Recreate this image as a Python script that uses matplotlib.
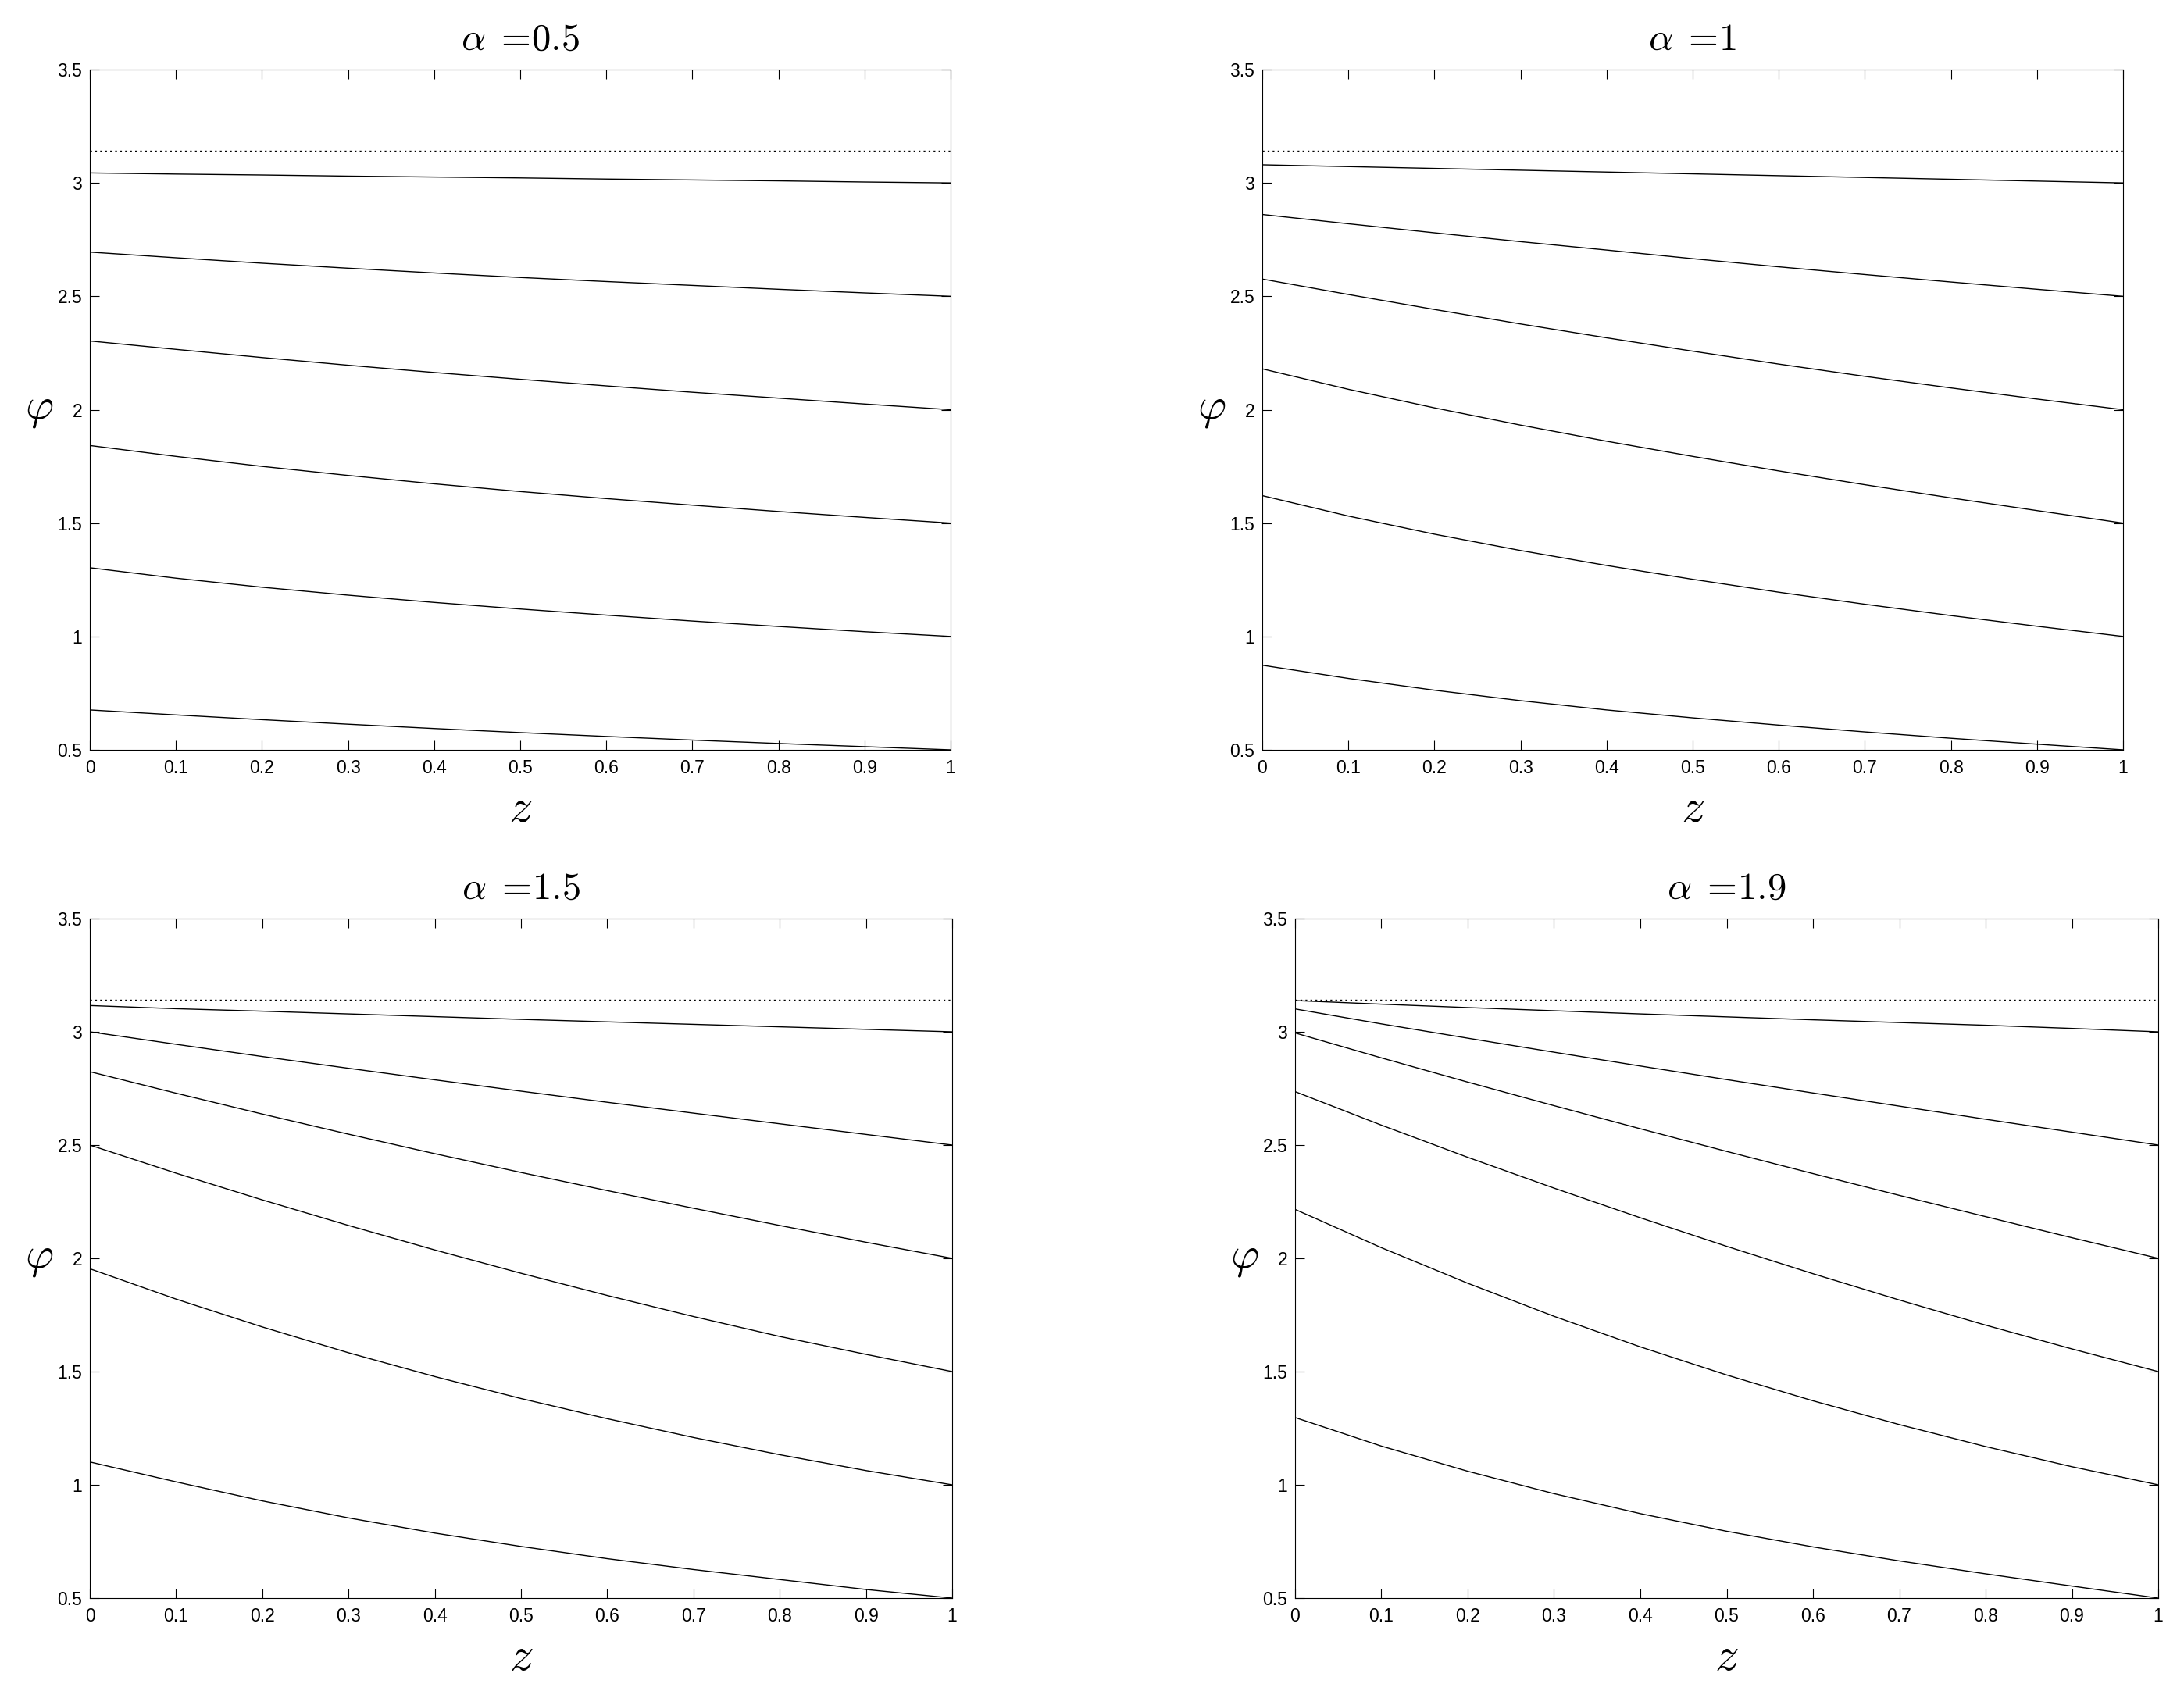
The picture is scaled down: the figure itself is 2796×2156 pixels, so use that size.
import matplotlib
matplotlib.use("Agg")
import matplotlib.pyplot as plt
import numpy as np

plt.rcParams['font.family'] = ['Liberation Sans', 'DejaVu Sans']
plt.rcParams['mathtext.fontset'] = 'cm'

# ---- data ----
z = [0.0, 0.1, 0.2, 0.3, 0.4, 0.5, 0.6, 0.7, 0.8, 0.9, 1.0]
pi_level = 3.1416

alphas = ['0.5', '1', '1.5', '1.9']

phi_a05 = [
    [3.044, 3.039, 3.035, 3.030, 3.026, 3.022, 3.017, 3.013, 3.009, 3.004, 3.000],
    [2.695, 2.670, 2.646, 2.624, 2.603, 2.583, 2.565, 2.548, 2.531, 2.515, 2.500],
    [2.303, 2.266, 2.230, 2.196, 2.164, 2.134, 2.105, 2.077, 2.051, 2.025, 2.000],
    [1.842, 1.794, 1.750, 1.710, 1.673, 1.639, 1.608, 1.579, 1.551, 1.525, 1.500],
    [1.303, 1.257, 1.217, 1.182, 1.150, 1.121, 1.094, 1.068, 1.044, 1.021, 1.000],
    [0.676, 0.654, 0.633, 0.613, 0.594, 0.576, 0.559, 0.543, 0.528, 0.514, 0.500],
]
phi_a10 = [
    [3.080, 3.072, 3.064, 3.056, 3.048, 3.040, 3.032, 3.024, 3.016, 3.008, 3.000],
    [2.861, 2.820, 2.780, 2.741, 2.704, 2.666, 2.630, 2.596, 2.563, 2.531, 2.500],
    [2.576, 2.508, 2.442, 2.378, 2.317, 2.258, 2.201, 2.147, 2.096, 2.047, 2.000],
    [2.180, 2.090, 2.008, 1.932, 1.861, 1.794, 1.730, 1.669, 1.611, 1.555, 1.500],
    [1.621, 1.531, 1.451, 1.379, 1.313, 1.252, 1.195, 1.142, 1.092, 1.045, 1.000],
    [0.873, 0.815, 0.763, 0.717, 0.676, 0.641, 0.609, 0.579, 0.551, 0.525, 0.500],
]
phi_a15 = [
    [3.116, 3.102, 3.091, 3.079, 3.067, 3.055, 3.044, 3.033, 3.022, 3.011, 3.000],
    [3.000, 2.945, 2.891, 2.839, 2.788, 2.738, 2.689, 2.641, 2.594, 2.547, 2.500],
    [2.824, 2.729, 2.637, 2.548, 2.462, 2.379, 2.299, 2.221, 2.145, 2.071, 2.000],
    [2.500, 2.376, 2.258, 2.145, 2.037, 1.934, 1.836, 1.743, 1.655, 1.576, 1.500],
    [1.954, 1.820, 1.697, 1.583, 1.478, 1.381, 1.292, 1.209, 1.133, 1.063, 1.000],
    [1.101, 1.013, 0.929, 0.854, 0.787, 0.728, 0.674, 0.626, 0.582, 0.538, 0.500],
]
phi_a19 = [
    [3.138, 3.122, 3.107, 3.093, 3.079, 3.066, 3.053, 3.041, 3.029, 3.015, 3.000],
    [3.101, 3.035, 2.972, 2.910, 2.849, 2.789, 2.730, 2.672, 2.614, 2.557, 2.500],
    [2.995, 2.885, 2.778, 2.674, 2.572, 2.472, 2.374, 2.278, 2.184, 2.091, 2.000],
    [2.736, 2.588, 2.446, 2.310, 2.179, 2.053, 1.932, 1.816, 1.705, 1.600, 1.500],
    [2.216, 2.047, 1.890, 1.744, 1.609, 1.485, 1.371, 1.266, 1.169, 1.080, 1.000],
    [1.297, 1.171, 1.060, 0.961, 0.873, 0.795, 0.726, 0.664, 0.607, 0.553, 0.500],
]
panels = [phi_a05, phi_a10, phi_a15, phi_a19]

xticks = [0, 0.1, 0.2, 0.3, 0.4, 0.5, 0.6, 0.7, 0.8, 0.9, 1]
xticklabels = ['0', '0.1', '0.2', '0.3', '0.4', '0.5', '0.6', '0.7', '0.8', '0.9', '1']
yticks = [0.5, 1, 1.5, 2, 2.5, 3, 3.5]
yticklabels = ['0.5', '1', '1.5', '2', '2.5', '3', '3.5']

# ---- layout ----
W, H = 2796, 2156
fig = plt.figure(figsize=(W / 100, H / 100), dpi=100)
boxes = [  # left, top, right, bottom in pixels
    (115, 89, 1217, 960),
    (1616, 89, 2718, 960),
    (115, 1176, 1219, 2046),
    (1658, 1176, 2763, 2046),
]

for (l, t, r, b), curves, a in zip(boxes, panels, alphas):
    ax = fig.add_axes([l / W, 1 - b / H, (r - l) / W, (b - t) / H])
    ax.axhline(pi_level, color='black', lw=1.0, dashes=(1.6, 3.0))
    for c in curves:
        ax.plot(z, c, color='black', lw=1.0)
    ax.set_xlim(0, 1)
    ax.set_ylim(0.5, 3.5)
    ax.set_xticks(xticks)
    ax.set_xticklabels(xticklabels)
    ax.set_yticks(yticks)
    ax.set_yticklabels(yticklabels)
    ax.tick_params(direction='in', length=8.5, width=0.8, labelsize=16.5,
                   top=True, right=True)
    ax.tick_params(axis='x', pad=9)
    ax.tick_params(axis='y', pad=7)
    for s in ax.spines.values():
        s.set_linewidth(0.8)
    ax.set_title(r'$\alpha\;=\!' + a + '$', fontsize=35, pad=18)
    ax.set_xlabel(r'$z$', fontsize=44, va='center')
    ax.xaxis.set_label_coords(0.5, -0.088)
    ax.set_ylabel(r'$\varphi$', fontsize=40, rotation=0, ha='center', va='center')
    ax.yaxis.set_label_coords(-0.059, 0.5)

fig.savefig('out.png', dpi=100)
